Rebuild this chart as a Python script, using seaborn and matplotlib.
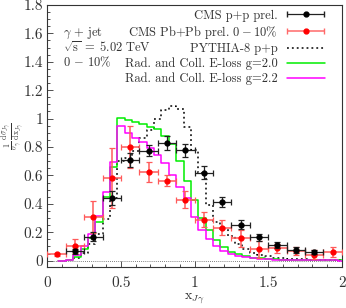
import numpy as np
import matplotlib
matplotlib.use("Agg")
import matplotlib.pyplot as plt
from matplotlib.ticker import MultipleLocator, FuncFormatter
from matplotlib.legend_handler import HandlerErrorbar
import seaborn as sns

# ---------------- data ----------------
bin_centers = [0.10, 0.15, 0.20, 0.25, 0.30, 0.35, 0.40, 0.45, 0.50, 0.55,
               0.60, 0.65, 0.70, 0.75, 0.80, 0.85, 0.90, 0.95, 1.00, 1.05,
               1.10, 1.15, 1.20, 1.25, 1.30, 1.35, 1.40, 1.45, 1.50, 1.55,
               1.60, 1.65, 1.70, 1.75, 1.80, 1.85, 1.90, 1.95, 2.00]
bin_width = 0.05

pythia = [np.nan, np.nan, 0.02, 0.056, 0.115, 0.185, 0.29, 0.44, 0.70, 0.72,
          0.77, 0.86, 0.92, 1.00, 1.06, 1.09, 1.07, 0.94, 0.78, 0.62,
          0.39, 0.27, 0.22, 0.17, 0.12, 0.08, 0.055, 0.04, 0.03, 0.022,
          0.018, 0.014, 0.011, 0.009, 0.007, 0.006, 0.005, 0.004, 0.004]

eloss_g20 = [0.0, 0.004, 0.025, 0.08, 0.16, 0.272, 0.45, 0.66, 1.005, 0.99,
             0.975, 0.96, 0.94, 0.925, 0.88, 0.82, 0.70, 0.56, 0.43, 0.30,
             0.215, 0.145, 0.097, 0.062, 0.045, 0.03, 0.022, 0.016, 0.012, 0.010,
             0.008, 0.006, 0.005, 0.004, 0.004, 0.003, 0.003, 0.002, 0.002]

eloss_g22 = [0.0, 0.007, 0.037, 0.10, 0.19, 0.314, 0.48, 0.694, 0.946, 0.90,
             0.865, 0.835, 0.79, 0.745, 0.685, 0.60, 0.515, 0.44, 0.305, 0.213,
             0.15, 0.103, 0.07, 0.048, 0.033, 0.024, 0.018, 0.013, 0.010, 0.008,
             0.006, 0.005, 0.004, 0.003, 0.003, 0.002, 0.002, 0.002, 0.001]

pp_x = [0.1875, 0.3125, 0.4375, 0.5625, 0.6875, 0.8125, 0.9375,
        1.0625, 1.1875, 1.3125, 1.4375, 1.5625, 1.6875, 1.8125]
pp_y = [0.065, 0.169, 0.441, 0.706, 0.775, 0.828, 0.777,
        0.62, 0.415, 0.253, 0.164, 0.108, 0.075, 0.063]
pp_yerr = [0.02, 0.03, 0.05, 0.05, 0.04, 0.05, 0.045,
           0.045, 0.035, 0.03, 0.025, 0.02, 0.02, 0.015]

pbpb_x = [0.0625, 0.1875, 0.3125, 0.4375, 0.5625, 0.6875, 0.8125, 0.9375,
          1.0625, 1.1875, 1.3125, 1.4375, 1.5625, 1.6875, 1.8125, 1.9375]
pbpb_y = [0.046, 0.103, 0.307, 0.582, 0.80, 0.624, 0.563, 0.43,
          0.289, 0.233, 0.157, 0.08, 0.087, 0.068, 0.042, 0.06]
pbpb_yerr = [0.01, 0.05, 0.11, 0.21, 0.15, 0.07, 0.04, 0.06,
             0.05, 0.05, 0.06, 0.06, 0.03, 0.03, 0.03, 0.035]
point_xerr = 0.0625

labels = ["CMS p+p prel.", r"CMS Pb+Pb prel. $0-10\%$", "PYTHIA-8 p+p",
          "Rad. and Coll. E-loss g=2.0", "Rad. and Coll. E-loss g=2.2"]

# ---------------- style ----------------
sns.set_theme(style="ticks")
plt.rcParams["font.family"] = ["cmr10", "DejaVu Serif"]
plt.rcParams["mathtext.fontset"] = "cm"
plt.rcParams["axes.formatter.use_mathtext"] = True
plt.rcParams["axes.unicode_minus"] = False

TXT = "#333333"
fig = plt.figure(figsize=(3.46, 3.08), dpi=100)
ax = fig.add_axes([0.137, 0.133, 0.851, 0.851])


def step_frame(vals):
    c = np.asarray(bin_centers)
    v = np.asarray(vals, dtype=float)
    xs = np.append(c - bin_width / 2, c[-1] + bin_width / 2)
    ys = np.append(v, v[-1])
    return xs, ys


ax.axhline(0, color="#555555", lw=0.6, ls=(0, (1, 1.5)), zorder=1)

# error-bar points
h_pp = ax.errorbar(pp_x, pp_y, xerr=point_xerr, yerr=pp_yerr, fmt="o",
                   color="black", ms=3.5, ecolor="#222222", elinewidth=0.9,
                   capsize=2, capthick=0.9, zorder=6)
h_pb = ax.errorbar(pbpb_x, pbpb_y, xerr=point_xerr, yerr=pbpb_yerr, fmt="o",
                   color="#ff0000", ms=3.5, ecolor="#ff5a5a", elinewidth=1.1,
                   capsize=2, capthick=0.9, zorder=5)

xs, ys = step_frame(pythia)
sns.lineplot(x=xs, y=ys, ax=ax, drawstyle="steps-post", color="black",
             lw=1.1, ls=(0, (1.2, 2.0)), estimator=None, sort=False, zorder=3)
l_py = ax.lines[-1]
xs, ys = step_frame(eloss_g20)
sns.lineplot(x=xs, y=ys, ax=ax, drawstyle="steps-post", color="#00ee00",
             lw=1.1, estimator=None, sort=False, zorder=3)
l_g20 = ax.lines[-1]
xs, ys = step_frame(eloss_g22)
sns.lineplot(x=xs, y=ys, ax=ax, drawstyle="steps-post", color="#ff00ff",
             lw=1.1, estimator=None, sort=False, zorder=4)
l_g22 = ax.lines[-1]

# legend proxies (horizontal bar with caps only, as in the reference)
p_pp = ax.errorbar([np.nan], [np.nan], xerr=[0.1], fmt="o", color="black",
                   ms=3.5, ecolor="#222222", elinewidth=0.9, capsize=2.5)
p_pb = ax.errorbar([np.nan], [np.nan], xerr=[0.1], fmt="o", color="#ff0000",
                   ms=3.5, ecolor="#ff6a6a", elinewidth=1.1, capsize=2.5)

ax.set_xlim(0, 2)
ax.set_ylim(-0.045, 1.8)
ax.xaxis.set_major_locator(MultipleLocator(0.5))
ax.xaxis.set_minor_locator(MultipleLocator(0.1))
ax.yaxis.set_major_locator(MultipleLocator(0.2))
ax.yaxis.set_minor_locator(MultipleLocator(0.05))
fmt = FuncFormatter(lambda v, p: "%g" % round(v, 3))
ax.xaxis.set_major_formatter(fmt)
ax.yaxis.set_major_formatter(fmt)
ax.tick_params(which="both", direction="in", top=False, right=False,
               labelsize=11, width=0.6, color=TXT, labelcolor=TXT)
ax.tick_params(which="major", length=4)
ax.tick_params(which="minor", length=2)
ax.tick_params(axis="x", pad=6.5)
ax.tick_params(axis="y", pad=3)
for s in ax.spines.values():
    s.set_linewidth(0.8)
    s.set_color(TXT)

ax.set_xlabel(r"$\mathrm{x}_{J\gamma}$", fontsize=10, color=TXT, va="center")
ax.xaxis.set_label_coords(0.5, -0.122)
ax.set_ylabel(r"$\frac{1}{\sigma_{\gamma}}\,\frac{\mathrm{d}\sigma_{J\gamma}}{\mathrm{d}\mathrm{x}_{J\gamma}}$",
              fontsize=8, color=TXT, va="center")
ax.yaxis.set_label_coords(-0.118, 0.5)

ax.text(0.053, 0.893, r"$\gamma\,+\,\mathrm{jet}$", transform=ax.transAxes,
        fontsize=9, color=TXT, va="center")
ax.text(0.053, 0.836, r"$\sqrt{\mathrm{s}}\;=\;5.02\ \mathrm{TeV}$", transform=ax.transAxes,
        fontsize=9, color=TXT, va="center")
ax.text(0.053, 0.782, r"$0\,-\,10\%$", transform=ax.transAxes,
        fontsize=9, color=TXT, va="center")

leg = ax.legend([p_pp, p_pb, l_py, l_g20, l_g22], labels, loc="upper right",
                bbox_to_anchor=(0.942, 0.983), markerfirst=False, frameon=False,
                fontsize=9, handlelength=3.05, labelspacing=0.18, handletextpad=0.7,
                borderaxespad=0.0, borderpad=0.0,
                handler_map={type(p_pp): HandlerErrorbar(xerr_size=1.5)})
for t in leg.get_texts():
    t.set_color(TXT)

fig.savefig("out.png", dpi=100)
